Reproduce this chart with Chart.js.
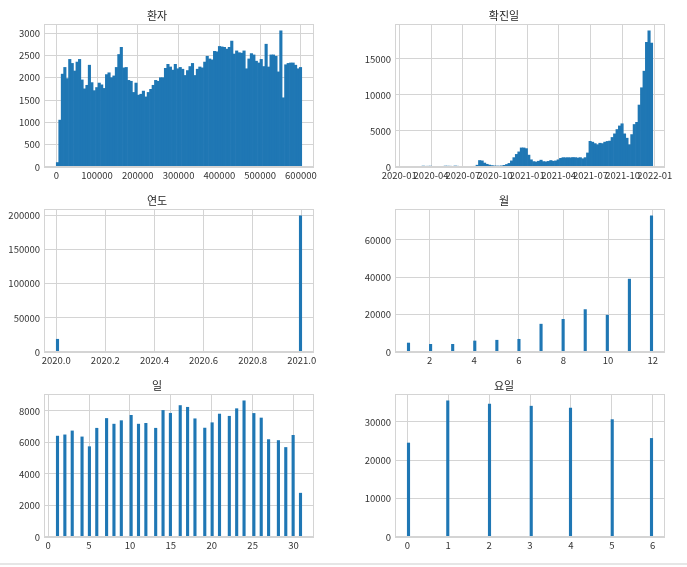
<!DOCTYPE html>
<html>
<head>
<meta charset="utf-8">
<script src="https://cdn.jsdelivr.net/npm/chart.js@4.4.0/dist/chart.umd.min.js"></script>
<style>
  body { margin: 0; background: #fff; width: 687px; height: 567px; position: relative; overflow: hidden; }
  canvas { position: absolute; }
  #rule { position: absolute; left: 0; top: 563px; width: 687px; height: 2px; background: #e6e6e6; }
</style>
</head>
<body>
<canvas id="c0"></canvas>
<canvas id="c1"></canvas>
<canvas id="c2"></canvas>
<canvas id="c3"></canvas>
<canvas id="c4"></canvas>
<canvas id="c5"></canvas>
<div id="rule"></div>
<script>
// 환자 (patient number) - 100 bins
const patientRange = [0, 602000];
const patientCounts = [
  100, 1050, 2080, 2230, 1980, 2410, 2320, 2150, 2350, 2410,
  1950, 1750, 1830, 2280, 1890, 1710, 1780, 1880, 1840, 1760,
  2070, 2110, 2000, 2040, 2230, 2520, 2680, 2220, 2230, 1940,
  1920, 1670, 1880, 1610, 1630, 1700, 1570, 1670, 1740, 1830,
  1940, 1920, 2000, 2000, 2210, 2300, 2240, 2170, 2300, 2200,
  2230, 2190, 2050, 2160, 2250, 2320, 2050, 2190, 2240, 2220,
  2350, 2480, 2420, 2400, 2590, 2580, 2700, 2690, 2680, 2640,
  2680, 2820, 2530, 2600, 2560, 2550, 2600, 2200, 2420, 2540,
  2510, 2370, 2330, 2410, 2250, 2750, 2240, 2510, 2510, 2480,
  2130, 3050, 1550, 2290, 2320, 2330, 2330, 2280, 2200, 2230
];
const patientTicksX = [0, 100000, 200000, 300000, 400000, 500000, 600000];
const patientTicksY = [0, 500, 1000, 1500, 2000, 2500, 3000];

// 확진일 (confirmation date) - 100 bins
const confirmFirst = '2020-01-24';
const confirmLast = '2021-12-26';
const confirmCounts = [
  5, 10, 15, 20, 30, 80, 130, 100, 110, 120,
  70, 40, 30, 20, 60, 130, 120, 110, 90, 140,
  110, 80, 70, 60, 50, 70, 80, 100, 250, 900,
  850, 550, 380, 270, 200, 150, 140, 130, 160, 230,
  350, 500, 850, 1300, 1750, 2100, 2650, 2650, 2550, 1650,
  1000, 750, 700, 800, 950, 750, 720, 780, 900, 800,
  850, 1000, 1200, 1300, 1280, 1300, 1280, 1320, 1300, 1250,
  1300, 1150, 1300, 1950, 3560, 3450, 3250, 3100, 3300, 3250,
  3450, 3550, 3600, 4100, 4600, 5200, 5700, 6000, 4600, 4000,
  3100, 4500, 5900, 6200, 8600, 11000, 13300, 17300, 18900, 17200
];
const confirmTickLabels = ['2020-01', '2020-04', '2020-07', '2020-10', '2021-01', '2021-04', '2021-07', '2021-10', '2022-01'];
const confirmTicksY = [0, 5000, 10000, 15000];

// 연도 (year)
const yearValues = [2020, 2021];
const yearCounts = [18700, 199800];
const yearTicksX = [2020.0, 2020.2, 2020.4, 2020.6, 2020.8, 2021.0];
const yearTicksY = [0, 50000, 100000, 150000, 200000];

// 월 (month)
const monthValues = [1, 2, 3, 4, 5, 6, 7, 8, 9, 10, 11, 12];
const monthCounts = [4800, 4100, 4100, 5900, 6300, 6800, 14900, 17500, 22700, 19700, 39000, 72900];
const monthTicksX = [2, 4, 6, 8, 10, 12];
const monthTicksY = [0, 20000, 40000, 60000];

// 일 (day of month)
const dayValues = [1, 2, 3, 4, 5, 6, 7, 8, 9, 10, 11, 12, 13, 14, 15, 16, 17, 18, 19, 20, 21, 22, 23, 24, 25, 26, 27, 28, 29, 30, 31];
const dayCounts = [6400, 6480, 6730, 6350, 5730, 6900, 7520, 7160, 7380, 7720, 7160, 7210, 6900, 8030, 7850, 8340, 8230, 7500, 6910, 7250, 7800, 7660, 8140, 8640, 7840, 7550, 6180, 6120, 5680, 6450, 2780];
const dayTicksX = [0, 5, 10, 15, 20, 25, 30];
const dayTicksY = [0, 2000, 4000, 6000, 8000];

// 요일 (weekday)
const weekdayValues = [0, 1, 2, 3, 4, 5, 6];
const weekdayCounts = [24500, 35500, 34650, 34100, 33600, 30600, 25700];
const weekdayTicksX = [0, 1, 2, 3, 4, 5, 6];
const weekdayTicksY = [0, 10000, 20000, 30000];

const NBINS = 100;
const barColor = '#1f77b4';
const gridColor = '#d4d4d4';
const textColor = '#333333';
const fontFamily = "'Noto Sans CJK KR', 'Noto Sans', sans-serif";

function dayNum(s) {
  const p = s.split('-').map(Number);
  return (Date.UTC(p[0], p[1] - 1, p[2] || 1) - Date.UTC(2020, 0, 1)) / 86400000;
}

// put raw value counts into 100 equal bins between lo and hi
function binned(values, counts, lo, hi) {
  const out = new Array(NBINS).fill(0);
  values.forEach((v, k) => {
    let i = Math.floor((v - lo) / (hi - lo) * NBINS + 1e-9);
    if (i >= NBINS) i = NBINS - 1;
    out[i] += counts[k];
  });
  return out;
}

function histPoints(bins, lo, hi) {
  const w = (hi - lo) / bins.length;
  return bins.map((c, i) => ({ x: lo + (i + 0.5) * w, y: c }));
}

const frame = {
  id: 'frame',
  afterDatasetsDraw(chart) {
    const a = chart.chartArea, c = chart.ctx;
    c.save();
    c.strokeStyle = gridColor;
    c.lineWidth = 1;
    c.strokeRect(Math.round(a.left) + 0.5, Math.round(a.top) + 0.5,
      Math.round(a.right - a.left) - 1, Math.round(a.bottom - a.top) - 1);
    c.restore();
  }
};

function makeHist(p) {
  const cv = document.getElementById(p.id);
  cv.width = p.w; cv.height = p.h;
  cv.style.left = p.left + 'px'; cv.style.top = p.top + 'px';
  cv.style.width = p.w + 'px'; cv.style.height = p.h + 'px';
  const span = p.hi - p.lo;
  const ymax = Math.max(...p.bins) * 1.05;
  new Chart(cv, {
    type: 'bar',
    data: {
      datasets: [{
        data: histPoints(p.bins, p.lo, p.hi),
        backgroundColor: barColor,
        borderWidth: 0,
        barPercentage: 1,
        categoryPercentage: 1
      }]
    },
    options: {
      responsive: false,
      animation: false,
      layout: { padding: { left: 0, right: p.rp, top: 0, bottom: 0 } },
      plugins: {
        legend: { display: false },
        tooltip: { enabled: false },
        title: {
          display: true, text: p.title, color: '#262626',
          font: { family: fontFamily, size: 11, weight: 'normal', lineHeight: 1 },
          padding: { top: 10, bottom: 3 }
        }
      },
      scales: {
        x: {
          type: 'linear',
          offset: false,
          min: p.lo - 0.05 * span,
          max: p.hi + 0.05 * span,
          afterBuildTicks: s => { s.ticks = p.ticksX.map(v => ({ value: v })); },
          afterFit: s => { s.height = 19; },
          ticks: {
            autoSkip: false, maxRotation: 0, minRotation: 0, padding: 3,
            color: textColor, font: { family: fontFamily, size: 9.5 },
            callback: p.fmtX || (v => String(v))
          },
          grid: { color: gridColor, drawTicks: false, offset: false },
          border: { display: false }
        },
        y: {
          type: 'linear',
          min: 0,
          max: ymax,
          afterBuildTicks: s => { s.ticks = p.ticksY.map(v => ({ value: v })); },
          afterFit: s => { s.width = p.yw; },
          ticks: {
            padding: 4, color: textColor, font: { family: fontFamily, size: 9.5 },
            callback: v => String(v)
          },
          grid: { color: gridColor, drawTicks: false },
          border: { display: false }
        }
      }
    },
    plugins: [frame]
  });
}

const cLo = dayNum(confirmFirst), cHi = dayNum(confirmLast);
const confirmTicksX = confirmTickLabels.map(dayNum);

makeHist({ id: 'c0', left: 0, top: 0, w: 343, h: 186, yw: 44, rp: 29, title: '환자',
  bins: patientCounts, lo: patientRange[0], hi: patientRange[1],
  ticksX: patientTicksX, ticksY: patientTicksY });
makeHist({ id: 'c1', left: 343, top: 0, w: 344, h: 186, yw: 52, rp: 22, title: '확진일',
  bins: confirmCounts, lo: cLo, hi: cHi,
  ticksX: confirmTicksX, ticksY: confirmTicksY,
  fmtX: (v, i) => confirmTickLabels[i] });
makeHist({ id: 'c2', left: 0, top: 185, w: 343, h: 186, yw: 44, rp: 29, title: '연도',
  bins: binned(yearValues, yearCounts, 2020, 2021), lo: 2020, hi: 2021,
  ticksX: yearTicksX, ticksY: yearTicksY, fmtX: v => v.toFixed(1) });
makeHist({ id: 'c3', left: 343, top: 185, w: 344, h: 186, yw: 52, rp: 22, title: '월',
  bins: binned(monthValues, monthCounts, 1, 12), lo: 1, hi: 12,
  ticksX: monthTicksX, ticksY: monthTicksY });
makeHist({ id: 'c4', left: 0, top: 370, w: 343, h: 186, yw: 44, rp: 29, title: '일',
  bins: binned(dayValues, dayCounts, 1, 31), lo: 1, hi: 31,
  ticksX: dayTicksX, ticksY: dayTicksY });
makeHist({ id: 'c5', left: 343, top: 370, w: 344, h: 186, yw: 52, rp: 22, title: '요일',
  bins: binned(weekdayValues, weekdayCounts, 0, 6), lo: 0, hi: 6,
  ticksX: weekdayTicksX, ticksY: weekdayTicksY });
</script>
</body>
</html>
